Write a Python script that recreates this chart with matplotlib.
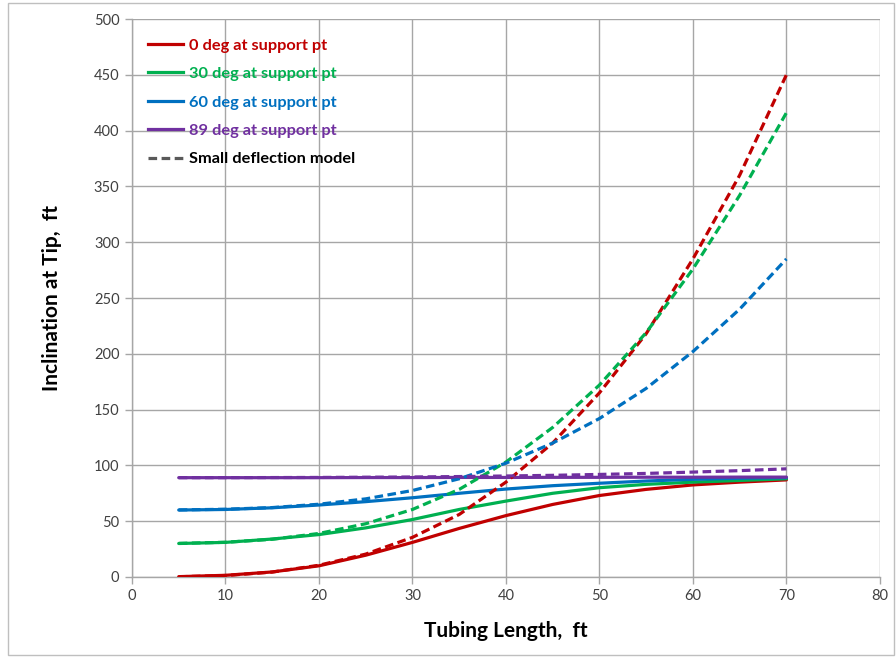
import matplotlib
matplotlib.use("Agg")
import matplotlib.pyplot as plt
from matplotlib.patches import Rectangle

# ---- data ----
length_ft = [5, 10, 15, 20, 25, 30, 35, 40, 45, 50, 55, 60, 65, 70]

large_0 = [0.3, 1.5, 4.5, 10, 19.5, 31, 43.5, 55, 65, 73, 78.5, 82.5, 85, 87]
large_30 = [30, 31, 34, 38, 44, 51.5, 60.5, 68, 75, 80, 83, 85, 86.5, 88]
large_60 = [60, 60.5, 62, 64.5, 67.5, 71, 75, 78.8, 81.8, 84, 86, 87.5, 88.5, 89]
large_89 = [89, 89, 89, 89, 89.1, 89.1, 89.2, 89.2, 89.3, 89.3, 89.4, 89.4, 89.5, 89.5]

small_0 = [0.2, 1.3, 4.4, 10.5, 20.5, 35.5, 56, 85, 120, 165, 218, 285, 360, 450]
small_30 = [30.1, 31.1, 33.8, 39, 47.7, 60.5, 78.5, 103, 134, 172, 219, 276, 342, 416]
small_60 = [60.1, 60.7, 62.2, 65.2, 70, 77.5, 88, 102, 120, 142, 169, 202, 240, 285]
small_89 = [89, 89, 89.1, 89.2, 89.4, 89.6, 90, 90.5, 91.1, 91.9, 92.8, 94, 95.3, 96.9]

labels = ["0 deg at support pt", "30 deg at support pt",
          "60 deg at support pt", "89 deg at support pt",
          "Small deflection model"]
colors = ["#C00000", "#00B050", "#0070C0", "#7030A0"]

x_ticks = [0, 10, 20, 30, 40, 50, 60, 70, 80]
y_ticks = [0, 50, 100, 150, 200, 250, 300, 350, 400, 450, 500]

plt.rcParams['font.family'] = ['Lato', 'DejaVu Sans']

fig = plt.figure(figsize=(8.96, 6.57), dpi=100)
ax = fig.add_axes([0.1473, 0.1218, 0.982 - 0.1473, 0.971 - 0.1218])

lw = 2.3
dash = (2.7, 1.4)
for yl, c in zip([large_0, large_30, large_60, large_89], colors):
    ax.plot(length_ft, yl, color=c, lw=lw, solid_capstyle='round',
            solid_joinstyle='round', zorder=3)
for ys, c in zip([small_0, small_30, small_60, small_89], colors):
    ax.plot(length_ft, ys, color=c, lw=lw, dashes=dash, zorder=3)

ax.set_xlim(0, 80)
ax.set_ylim(0, 500)
ax.set_xticks(x_ticks)
ax.set_yticks(y_ticks)
ax.grid(True, color="#A6A6A6", lw=1.0, zorder=0)
ax.set_axisbelow(True)
for s in ["top", "right"]:
    ax.spines[s].set_visible(False)
for s in ["left", "bottom"]:
    ax.spines[s].set_color("#A6A6A6")
    ax.spines[s].set_linewidth(1.0)
ax.tick_params(axis='both', direction='out', length=5, width=1.0,
               color="#A6A6A6", labelsize=10.5, labelcolor="#404040", pad=4)

ax.set_xlabel("Tubing Length,  ft", fontsize=15, fontweight='bold')
ax.set_ylabel("Inclination at Tip,  ft", fontsize=15, fontweight='bold')
ax.xaxis.label.set_va('center')
ax.yaxis.label.set_va('center')
ax.xaxis.set_label_coords(0.5, (577 - 631) / 558)
ax.yaxis.set_label_coords((52 - 132) / 748, 0.5)

# legend
handles = []
for c in colors:
    handles.append(plt.Line2D([], [], color=c, lw=lw))
handles.append(plt.Line2D([], [], color="#595959", lw=lw, dashes=dash))
leg = ax.legend(handles, labels, loc='upper left', frameon=False,
                prop={'weight': 'bold', 'size': 11.8}, handlelength=2.1,
                handletextpad=0.4, labelspacing=0.85,
                bbox_to_anchor=(0.0, 0.995), borderaxespad=0.6)
for t, c in zip(leg.get_texts(), colors + ["#000000"]):
    t.set_color(c)

# chart border
fig.patches.append(Rectangle((8 / 896, 2 / 657), 886 / 896, 652 / 657,
                             transform=fig.transFigure, fill=False,
                             edgecolor="#BFBFBF", lw=1.0))

fig.savefig("out.png", dpi=100)
